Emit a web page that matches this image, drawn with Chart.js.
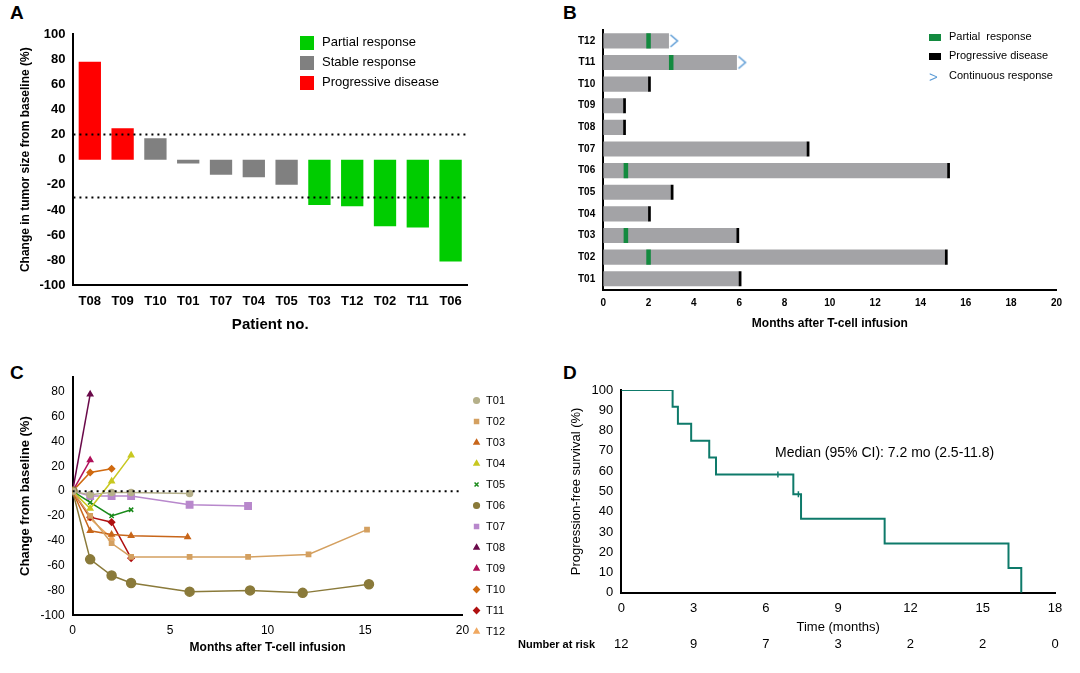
<!DOCTYPE html>
<html>
<head>
<meta charset="utf-8">
<script src="https://cdn.jsdelivr.net/npm/chart.js@4.4.0/dist/chart.umd.min.js"></script>
<style>
  body { margin: 0; background: #fff; font-family: "Liberation Sans", Arial, sans-serif; }
  #wrap { position: relative; width: 1080px; height: 673px; overflow: hidden; }
  canvas { position: absolute; }
  .lbl { position: absolute; font-weight: bold; font-size: 19px; }
  .txt { position: absolute; font-size: 12px; color: #000; white-space: nowrap; }
  .sw { display: inline-block; vertical-align: middle; margin-right: 8px; }
</style>
</head>
<body>
<div id="wrap">
  <div class="lbl" style="left:10px;top:2px">A</div>
  <div class="lbl" style="left:563px;top:2px">B</div>
  <div class="lbl" style="left:10px;top:362px">C</div>
  <div class="lbl" style="left:563px;top:362px">D</div>
  <canvas id="chartA" width="475" height="338" style="left:0;top:0"></canvas>
  <canvas id="chartB" width="500" height="335" style="left:565px;top:0"></canvas>
  <canvas id="chartC" width="525" height="290" style="left:0;top:365px"></canvas>
  <canvas id="chartD" width="510" height="270" style="left:565px;top:365px"></canvas>

  <div class="txt" style="left:300px;top:34px;font-size:13px">
    <div style="height:20px"><span class="sw" style="width:14px;height:14px;background:#00cc00"></span>Partial response</div>
    <div style="height:20px"><span class="sw" style="width:14px;height:14px;background:#808080"></span>Stable response</div>
    <div style="height:20px"><span class="sw" style="width:14px;height:14px;background:#ff0000"></span>Progressive disease</div>
  </div>
  <div class="txt" style="left:929px;top:30px;font-size:11px">
    <div style="height:19px"><span class="sw" style="width:12px;height:7px;background:#138a3f"></span>Partial&nbsp; response</div>
    <div style="height:19px"><span class="sw" style="width:12px;height:7px;background:#000"></span>Progressive disease</div>
    <div style="height:19px"><span class="sw" style="color:#5b9bd5;font-size:15px;width:12px">&gt;</span>Continuous response</div>
  </div>
  <div class="txt" style="left:775px;top:444px;font-size:14px">Median (95% CI): 7.2 mo (2.5-11.8)</div>
  <div class="txt" style="left:518px;top:638px;font-size:11px;font-weight:bold">Number at risk</div>
  <div id="risk"></div>
</div>
<script>
// ---- Panel A: waterfall
const waterfallPatients = ['T08', 'T09', 'T10', 'T01', 'T07', 'T04', 'T05', 'T03', 'T12', 'T02', 'T11', 'T06'];
const waterfallChange = [78, 25, 17, -3, -12, -14, -20, -36, -37, -53, -54, -81];
const waterfallResponse = ['PD', 'PD', 'SD', 'SD', 'SD', 'SD', 'SD', 'PR', 'PR', 'PR', 'PR', 'PR'];
const waterfallRefLines = [20, -30];

// ---- Panel B: swimmer plot (months)
const swimmerPatients = ['T12', 'T11', 'T10', 'T09', 'T08', 'T07', 'T06', 'T05', 'T04', 'T03', 'T02', 'T01'];
const swimmerDuration = [2.9, 5.9, 2.0, 0.9, 0.9, 9.0, 15.2, 3.0, 2.0, 5.9, 15.1, 6.0];
const swimmerPR = [2, 3, null, null, null, null, 1, null, null, 1, 2, null];
const swimmerPD = [null, null, 2.0, 0.9, 0.9, 9.0, 15.2, 3.0, 2.0, 5.9, 15.1, 6.0];
const swimmerContinuing = [true, true, false, false, false, false, false, false, false, false, false, false];

// ---- Panel C: spider plot
const spiderNames = ['T01', 'T02', 'T03', 'T04', 'T05', 'T06', 'T07', 'T08', 'T09', 'T10', 'T11', 'T12'];
const spiderColors = ['#b5b08a', '#d4a060', '#c8661a', '#c8c820', '#1a8a1a', '#8a7a3a', '#b888cc', '#6a0a4a', '#b0105a', '#d06a10', '#b01010', '#f0a860'];
const spiderMarkers = ['circle', 'rect', 'triangle', 'triangle', 'crossRot', 'circle', 'rect', 'triangle', 'triangle', 'rectRot', 'rectRot', 'triangle'];
const spiderTimes = [
  [0, 0.9, 2, 3, 6],
  [0, 0.9, 2, 3, 6, 9, 12.1, 15.1],
  [0, 0.9, 2, 3, 5.9],
  [0, 0.9, 2, 3],
  [0, 0.9, 2, 3],
  [0, 0.9, 2, 3, 6, 9.1, 11.8, 15.2],
  [0, 0.9, 2, 3, 6, 9],
  [0, 0.9],
  [0, 0.9],
  [0, 0.9, 2],
  [0, 0.9, 2, 3],
  [0, 0.9, 2]
];
const spiderValues = [
  [0, -3, -1, -1, -2],
  [0, -20, -42, -53, -53, -53, -51, -31],
  [0, -32, -35, -36, -37],
  [0, -14, 8, 29],
  [0, -9, -20, -15],
  [0, -55, -68, -74, -81, -80, -82, -75],
  [0, -4, -4, -4, -11, -12],
  [0, 78],
  [0, 25],
  [0, 15, 18],
  [0, -21, -25, -54],
  [0, -22, -38]
];

// ---- Panel D: Kaplan-Meier
const kmTimes = [0, 2.13, 2.35, 2.9, 3.65, 3.93, 7.14, 7.46, 10.93, 16.07, 16.6];
const kmSurvival = [100, 91.7, 83.3, 75, 66.7, 58.3, 48.6, 36.5, 24.3, 12.2, 0];
const kmCensorTimes = [6.5, 7.35];
const kmCensorSurvival = [58.3, 48.6];
const riskTimes = [0, 3, 6, 9, 12, 15, 18];
const riskCounts = [12, 9, 7, 3, 2, 2, 0];

const FONT = '"Liberation Sans", Arial, sans-serif';
Chart.defaults.font.family = FONT;
Chart.defaults.color = '#000';
Chart.defaults.animation = false;

function axis(extra) {
  return Object.assign({
    grid: { display: false, drawTicks: true, tickLength: 5, tickColor: '#000' },
    border: { color: '#000', width: 2 },
  }, extra);
}

// dotted reference lines at given y values
const refLinePlugin = {
  id: 'refLines',
  afterDatasetsDraw(chart, args, opts) {
    const { ctx, chartArea } = chart;
    const ys = chart.scales.y;
    ctx.save();
    ctx.strokeStyle = '#000';
    ctx.lineWidth = 2;
    ctx.setLineDash([2, 4]);
    (opts.values || []).forEach((v) => {
      const py = ys.getPixelForValue(v);
      ctx.beginPath();
      ctx.moveTo(chartArea.left, py);
      ctx.lineTo(chartArea.right, py);
      ctx.stroke();
    });
    ctx.restore();
  }
};

const responseColor = { PR: '#00cc00', SD: '#808080', PD: '#ff0000' };

new Chart(document.getElementById('chartA'), {
  type: 'bar',
  data: {
    labels: waterfallPatients,
    datasets: [{
      data: waterfallChange,
      backgroundColor: waterfallResponse.map((r) => responseColor[r]),
      barPercentage: 0.68,
      categoryPercentage: 1,
    }]
  },
  options: {
    responsive: false,
    layout: { padding: { top: 34, right: 8, left: 14 } },
    plugins: { legend: { display: false }, tooltip: { enabled: false }, refLines: { values: waterfallRefLines } },
    scales: {
      x: axis({ ticks: { font: { size: 13, weight: 'bold' } },
        title: { display: true, text: 'Patient no.', font: { size: 15, weight: 'bold' } } }),
      y: axis({ min: -100, max: 100, ticks: { stepSize: 20, font: { size: 13, weight: 'bold' } },
        title: { display: true, text: 'Change in tumor size from baseline (%)', font: { size: 12, weight: 'bold' } } })
    }
  },
  plugins: [refLinePlugin]
});

// chevron marker for continuing response
const chevron = document.createElement('canvas');
chevron.width = 12; chevron.height = 16;
(() => {
  const c = chevron.getContext('2d');
  c.strokeStyle = '#5b9bd5'; c.lineWidth = 1.5;
  c.beginPath(); c.moveTo(3, 2); c.lineTo(10, 8); c.lineTo(3, 14); c.stroke();
})();

new Chart(document.getElementById('chartB'), {
  data: {
    labels: swimmerPatients,
    datasets: [
      { type: 'bar', data: swimmerPR.map((v) => (v == null ? null : [v - 0.1, v + 0.1])), backgroundColor: '#138a3f',
        grouped: false, barPercentage: 0.7, categoryPercentage: 1, order: 1 },
      { type: 'bar', data: swimmerPD.map((v) => (v == null ? null : [v - 0.02, v + 0.1])), backgroundColor: '#000',
        grouped: false, barPercentage: 0.7, categoryPercentage: 1, order: 1 },
      { type: 'bar', data: swimmerDuration.map((v) => [0, v]), backgroundColor: '#a3a3a6',
        grouped: false, barPercentage: 0.7, categoryPercentage: 1, order: 2 },
      { type: 'scatter', data: swimmerPatients.map((p, i) => (swimmerContinuing[i] ? { x: swimmerDuration[i] + 0.2, y: p } : null)).filter(Boolean),
        pointStyle: chevron, order: 0 }
    ]
  },
  options: {
    indexAxis: 'y',
    responsive: false,
    layout: { padding: { top: 30, right: 8, left: 10 } },
    plugins: { legend: { display: false }, tooltip: { enabled: false } },
    scales: {
      x: axis({ type: 'linear', min: 0, max: 20, ticks: { stepSize: 2, font: { size: 10, weight: 'bold' } },
        title: { display: true, text: 'Months after T-cell infusion', font: { size: 12, weight: 'bold' } } }),
      y: axis({ type: 'category', offset: true, ticks: { font: { size: 10, weight: 'bold' } } })
    }
  }
});

new Chart(document.getElementById('chartC'), {
  type: 'line',
  data: {
    datasets: spiderNames.map((name, i) => ({
      label: name,
      data: spiderTimes[i].map((t, j) => ({ x: t, y: spiderValues[i][j] })),
      borderColor: spiderColors[i],
      backgroundColor: spiderColors[i],
      pointStyle: spiderMarkers[i],
      pointRadius: (name === 'T06' || name === 'T07') ? 4.5 : 3,
      borderWidth: 1.5,
      tension: 0,
    }))
  },
  options: {
    responsive: false,
    layout: { padding: { top: 12, right: 10, left: 14 } },
    plugins: {
      tooltip: { enabled: false },
      refLines: { values: [0] },
      legend: { position: 'right', labels: { usePointStyle: true, boxWidth: 8, boxHeight: 4, padding: 10, font: { size: 11 } } }
    },
    scales: {
      x: axis({ type: 'linear', min: 0, max: 20, ticks: { stepSize: 5, font: { size: 12 } },
        title: { display: true, text: 'Months after T-cell infusion', font: { size: 12, weight: 'bold' }, padding: 0 } }),
      y: axis({ min: -100, max: 92, afterBuildTicks: (s) => { s.ticks = s.ticks.filter((t) => t.value % 20 === 0); },
        ticks: { stepSize: 20, font: { size: 12 } },
        title: { display: true, text: 'Change from baseline (%)', font: { size: 13, weight: 'bold' } } })
    }
  },
  plugins: [refLinePlugin]
});

new Chart(document.getElementById('chartD'), {
  type: 'line',
  data: {
    datasets: [
      { data: kmTimes.map((t, i) => ({ x: t, y: kmSurvival[i] })), stepped: 'before', borderColor: '#0e7a6a',
        borderWidth: 2, pointRadius: 0 },
      { data: kmCensorTimes.map((t, i) => ({ x: t, y: kmCensorSurvival[i] })), showLine: false, pointStyle: 'line',
        rotation: 90, pointRadius: 3, borderColor: '#0e7a6a', borderWidth: 1.5 }
    ]
  },
  options: {
    responsive: false,
    layout: { padding: { top: 25, right: 20 } },
    plugins: { legend: { display: false }, tooltip: { enabled: false } },
    scales: {
      x: axis({ type: 'linear', min: 0, max: 18, ticks: { stepSize: 3, font: { size: 13 } },
        title: { display: true, text: 'Time (months)', font: { size: 13 }, padding: 0 } }),
      y: axis({ min: 0, max: 100, ticks: { stepSize: 10, font: { size: 13 } },
        title: { display: true, text: 'Progression-free survival (%)', font: { size: 13 } } })
    }
  }
});

// number-at-risk row aligned to the D x-axis
const riskEl = document.getElementById('risk');
const chartD = Chart.getChart('chartD');
riskTimes.forEach((t, i) => {
  const d = document.createElement('div');
  d.className = 'txt';
  d.style.fontSize = '13px';
  d.style.top = '636px';
  d.style.left = (565 + chartD.scales.x.getPixelForValue(t) - 8) + 'px';
  d.style.width = '16px';
  d.style.textAlign = 'center';
  d.textContent = riskCounts[i];
  riskEl.appendChild(d);
});
</script>
</body>
</html>
